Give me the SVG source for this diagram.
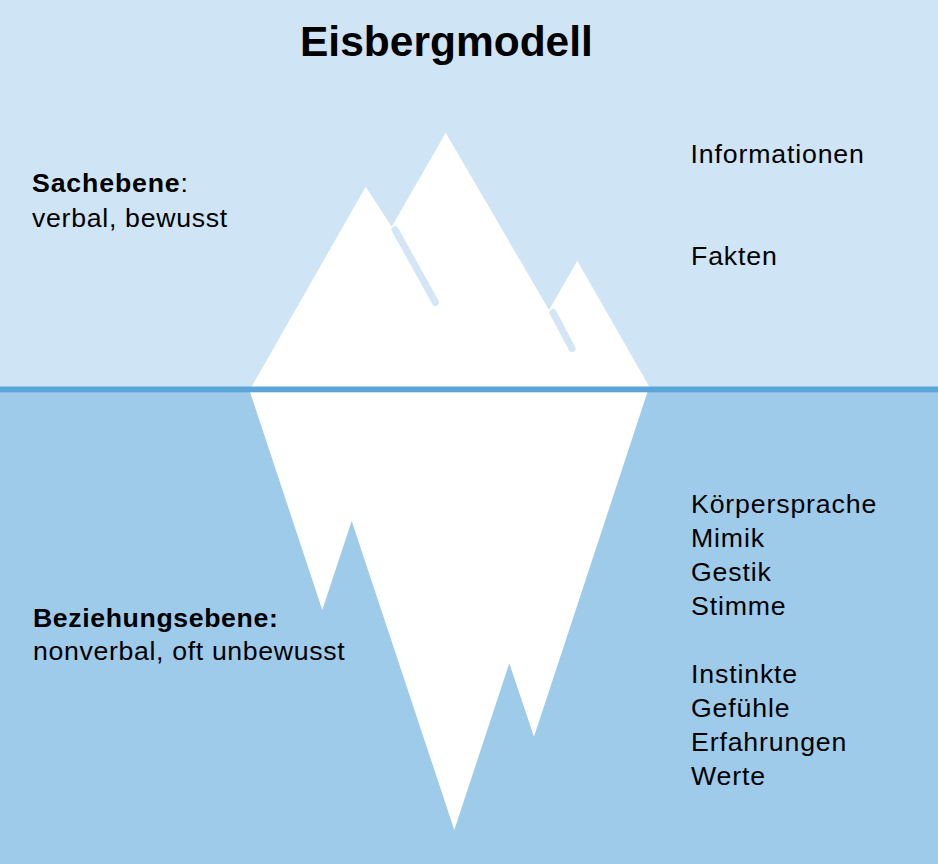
<svg xmlns="http://www.w3.org/2000/svg" width="938" height="864" viewBox="0 0 938 864">
  <style>
    .t { font-family: "Liberation Sans", Arial, sans-serif; font-size: 26.7px; fill: #000; letter-spacing: 0.85px; }
    .b { font-weight: bold; }
    .title { font-family: "Liberation Sans", Arial, sans-serif; font-size: 42.5px; font-weight: bold; fill: #000; }
    .ice { fill: #ffffff; }
    .hl { stroke: #d4e6f5; stroke-width: 7; stroke-linecap: round; fill: none; }
  </style>
  <g id="background">
    <rect x="0" y="0" width="938" height="387" fill="#cfe4f5"/>
    <rect x="0" y="392" width="938" height="472" fill="#9ecbea"/>
  </g>
  <g id="iceberg-top">
    <polygon class="ice" points="251.5,387 365.7,186.7 391.7,226.7 445.7,132.7 549,310 577.3,260.7 649.5,387"/>
    <line class="hl" x1="395" x2="435.5" y1="229.5" y2="302.5"/>
    <line class="hl" x1="553" x2="572" y1="312.5" y2="348.5"/>
  </g>
  <g id="iceberg-bottom">
    <polygon class="ice" points="250,392 322.3,610 351.7,521 454.3,830 509.3,663.3 534,736.7 647.5,392"/>
  </g>
  <g id="waterline">
    <rect x="0" y="386.5" width="938" height="5.8" fill="#5ba5da"/>
  </g>
  <g id="title">
    <text class="title" x="300" y="56">Eisbergmodell</text>
  </g>
  <g id="sachebene">
    <text class="t" x="32" y="192"><tspan class="b">Sachebene</tspan>:</text>
    <text class="t" x="32" y="227" style="letter-spacing:0.7px">verbal, bewusst</text>
  </g>
  <g id="beziehungsebene">
    <text class="t" x="33" y="627" style="letter-spacing:0.6px"><tspan class="b">Beziehungsebene:</tspan></text>
    <text class="t" x="33" y="660" style="letter-spacing:0.65px">nonverbal, oft unbewusst</text>
  </g>
  <g id="above-list">
    <text class="t" x="690.5" y="163">Informationen</text>
    <text class="t" x="691" y="265">Fakten</text>
  </g>
  <g id="below-list">
    <text class="t" x="691" y="513">Körpersprache</text>
    <text class="t" x="691" y="547">Mimik</text>
    <text class="t" x="691" y="581">Gestik</text>
    <text class="t" x="691" y="615">Stimme</text>
    <text class="t" x="691" y="683">Instinkte</text>
    <text class="t" x="691" y="717">Gefühle</text>
    <text class="t" x="691" y="751">Erfahrungen</text>
    <text class="t" x="691" y="785">Werte</text>
  </g>
</svg>
